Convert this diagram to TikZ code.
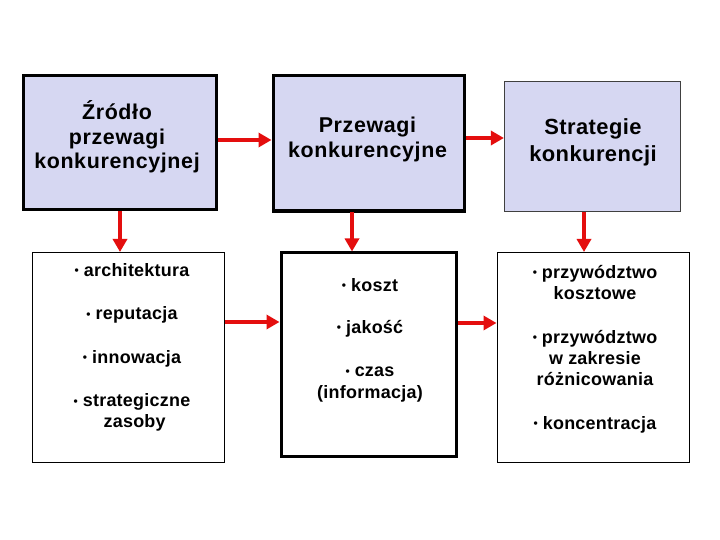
\documentclass[tikz,border=0pt]{standalone}
\usepackage{fontspec}
\setmainfont{Liberation Sans}
\usetikzlibrary{arrows.meta}
\definecolor{boxfill}{RGB}{214,215,242}
\definecolor{arrred}{RGB}{228,14,14}
\newcommand{\bul}{\raisebox{1.5bp}{\fontsize{12}{12}\selectfont\textbullet}\hspace{0.28em}}
\begin{document}
\begin{tikzpicture}[x=1bp,y=-1bp,
  thickbox/.style={draw=black,line width=3bp,inner sep=0},
  thinbox/.style={draw=black,line width=1bp,inner sep=0},
  topfill/.style={fill=boxfill},
  toptext/.style={font=\bfseries\fontsize{21.5}{24.5}\selectfont\addfontfeature{LetterSpace=3},align=center,inner sep=0},
  itemtext/.style={font=\bfseries\fontsize{18}{21.5}\selectfont\addfontfeature{LetterSpace=1.5},align=center,inner sep=0},
  arr/.style={draw=arrred,line width=4.5bp,-{Triangle[length=13bp,width=14bp]}}]
\useasboundingbox[fill=white] (0,0) rectangle (720,540);
% top boxes
\node[thickbox,topfill,minimum width=192bp,minimum height=134bp] (b1) at (120,142.5) {};
\node[thickbox,topfill,minimum width=191bp,minimum height=135bp] (b2) at (368.5,143.5) {};
\node[draw=black!75,line width=1.2bp,inner sep=0,topfill,minimum width=176bp,minimum height=130bp] (b3) at (592.5,146.5) {};
% bottom boxes
\node[thinbox,minimum width=192bp,minimum height=210bp] (b4) at (128.5,357.5) {};
\node[thickbox,minimum width=175bp,minimum height=203bp] (b5) at (368.5,354.5) {};
\node[thinbox,minimum width=192bp,minimum height=210bp] (b6) at (593,357.5) {};
% texts
\node[toptext] (t1) at (117,137) {Źródło\\przewagi\\konkurencyjnej};
\node[toptext] (t2) at (367.5,139.5) {Przewagi\\konkurencyjne};
\node[toptext,font=\bfseries\fontsize{22}{27}\selectfont\addfontfeature{LetterSpace=2}] (t3) at (593,142.5) {Strategie\\konkurencji};
\node[itemtext] (t4) at (132,347.5) {\bul architektura\\[22bp]\bul reputacja\\[22bp]\bul innowacja\\[22bp]\bul strategiczne\\ \ zasoby};
\node[itemtext] (t5) at (370,340) {\bul koszt\\[21bp]\bul jakość\\[22bp]\bul czas\\(informacja)};
\node[itemtext] (t6) at (595,349) {\bul przywództwo\\ kosztowe\\[22bp]\bul przywództwo\\ w zakresie\\ różnicowania\\[22bp]\bul koncentracja};
% arrows
\draw[arr] (b1.east |- 0,140) -- (b2.west |- 0,140);
\draw[arr] (b2.east |- 0,138) -- (b3.west |- 0,138);
\draw[arr] (b1.south) -- (b1.south |- b4.north);
\draw[arr] (b2.south -| 352,0) -- (b5.north -| 352,0);
\draw[arr] (b3.south -| 584,0) -- (b6.north -| 584,0);
\draw[arr] (b4.east |- 0,322) -- (b5.west |- 0,322);
\draw[arr] (b5.east |- 0,323) -- (b6.west |- 0,323);
\end{tikzpicture}
\end{document}
